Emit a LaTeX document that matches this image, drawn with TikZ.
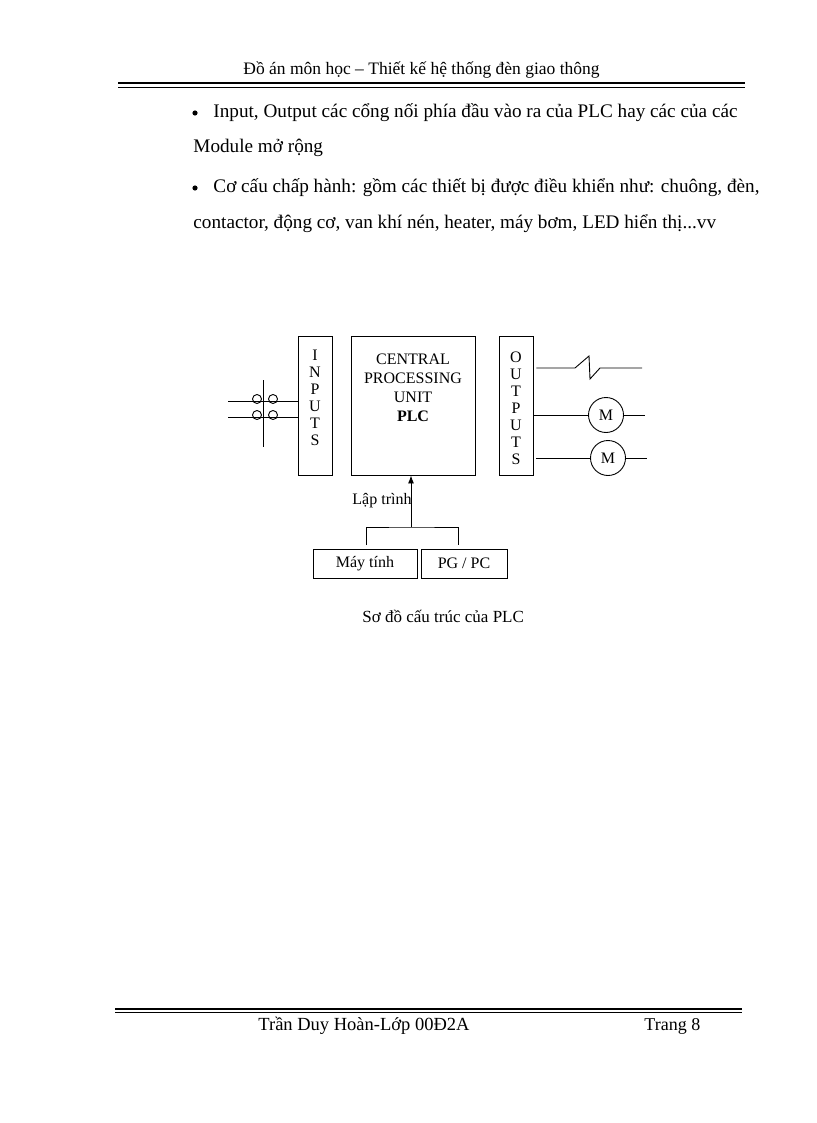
\documentclass[tikz,border=0pt]{standalone}
\usepackage{fontspec}
\setmainfont{Liberation Serif}
\usetikzlibrary{arrows.meta}
\begin{document}
\begin{tikzpicture}[x=1pt,y=-1pt,line width=0.9pt,
  box/.style={draw,line width=0.9pt,inner sep=0},
  txt/.style={inner sep=0,anchor=base west},
  lbl/.style={font=\fontsize{16}{17}\selectfont}]
\useasboundingbox (0,0) rectangle (816,1123);
% header
\node[txt,font=\fontsize{17.5}{17.5}\selectfont] (hd) at (243,75) {Đồ án môn học -- Thiết kế hệ thống đèn giao thông};
\draw[line width=2pt] (118,83.5) -- (745,83.5);
\draw[line width=0.8pt] (118,87.5) -- (745,87.5);
% bullets
\begin{scope}[font=\fontsize{19.2}{19.2}\selectfont]
\node[txt] (b1) at (213,118) {Input, Output các cổng nối phía đầu vào ra của PLC hay các của các};
\node[txt] (b1b) at (193,153) {Module mở rộng};
\node[txt] (b2) at (213,193) {Cơ cấu chấp hành: gồm các thiết bị được điều khiển như: chuông, đèn,};
\node[txt] (b2b) at (193,229) {contactor, động cơ, van khí nén, heater, máy bơm, LED hiển thị...vv};
\end{scope}
\fill (195,113) circle (2.6);
\fill (195,188) circle (2.6);
% diagram boxes
\node[box,minimum width=34,minimum height=139] (in) at (315,405.5) {};
\node[box,minimum width=124,minimum height=139] (cpu) at (413,405.5) {};
\node[box,minimum width=34,minimum height=139] (out) at (516,405.5) {};
\node[lbl,align=center,inner sep=0] (inl) at (315,398) {I\\N\\P\\U\\T\\S};
\node[lbl,align=center,inner sep=0] (outl) at (516,408) {O\\U\\T\\P\\U\\T\\S};
\node[lbl,align=center,inner sep=0,font=\fontsize{16}{19}\selectfont] (cpul) at (413,388) {CENTRAL\\PROCESSING\\UNIT\\\textbf{PLC}};
% inputs
\coordinate (i1) at (228,401); \coordinate (i2) at (228,417);
\draw (i1) -- (in.west |- i1);
\draw (i2) -- (in.west |- i2);
\foreach \y in {401,417} {
  \draw[fill=white] (257,\y-2) circle (4.5);
  \draw[fill=white] (273,\y-2) circle (4.5);
  \draw (250,\y) -- (280,\y);
}
\draw (263,380) -- (263,447);
% outputs
\coordinate (o1) at (642,368);
\draw (out.east |- o1) ++(3,0) -- (575,368) -- (589,356) -- (590,379) -- (600,368) -- (o1);
\node[draw,circle,minimum size=35,inner sep=0,lbl] (m1) at (606,415) {M};
\node[draw,circle,minimum size=35,inner sep=0,lbl] (m2) at (608,458) {M};
\coordinate (e1) at (645,415); \coordinate (e2) at (647,458);
\draw (out.east |- m1) -- (m1) (m1) -- (e1);
\draw (536,458) -- (m2) (m2) -- (e2);
% programming
\node[box,minimum width=104,minimum height=29,lbl] (pc1) at (365,563.5) {Máy tính};
\node[box,minimum width=86,minimum height=29,lbl] (pc2) at (464,563.5) {PG / PC};
\coordinate (j) at (411,527);
\draw[-{Latex[length=8pt,width=6pt]}] (j) -- (cpu.south -| j);
\draw (366,545) |- (j) -| (458,545);
\node[lbl,anchor=east,inner sep=0] (lt) at (412,501) {Lập trình};
% caption
\node[txt,font=\fontsize{17}{17}\selectfont] (cap) at (362,622) {Sơ đồ cấu trúc của PLC};
% footer
\draw[line width=2pt] (115,1008.5) -- (742,1008.5);
\draw[line width=0.8pt] (115,1012.5) -- (742,1012.5);
\node[txt,font=\fontsize{18.5}{18.5}\selectfont] (f1) at (258,1030) {Trần Duy Hoàn-Lớp 00Đ2A};
\node[txt,font=\fontsize{18}{18}\selectfont] (f2) at (644,1030) {Trang 8};
\end{tikzpicture}
\end{document}
